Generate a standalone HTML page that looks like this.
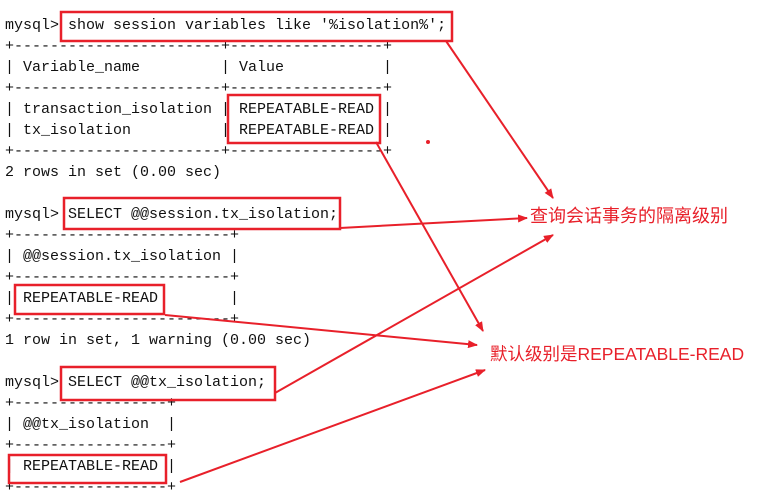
<!DOCTYPE html>
<html><head><meta charset="utf-8"><style>
html,body{margin:0;padding:0;background:#fff;width:776px;height:496px;overflow:hidden;position:relative}
pre{position:absolute;left:5px;top:15px;margin:0;font-family:"Liberation Mono",monospace;font-size:15px;line-height:21px;color:#111}
.lab{position:absolute;color:#e8202a;font-family:"Liberation Sans","Noto Sans CJK SC",sans-serif;font-size:18px;white-space:nowrap}
svg{position:absolute;left:0;top:0}
</style></head><body>
<pre>mysql> show session variables like '%isolation%';
+-----------------------+-----------------+
| Variable_name         | Value           |
+-----------------------+-----------------+
| transaction_isolation | REPEATABLE-READ |
| tx_isolation          | REPEATABLE-READ |
+-----------------------+-----------------+
2 rows in set (0.00 sec)

mysql> SELECT @@session.tx_isolation;
+------------------------+
| @@session.tx_isolation |
+------------------------+
| REPEATABLE-READ        |
+------------------------+
1 row in set, 1 warning (0.00 sec)

mysql> SELECT @@tx_isolation;
+-----------------+
| @@tx_isolation  |
+-----------------+
| REPEATABLE-READ |
+-----------------+</pre>
<svg width="776" height="496" viewBox="0 0 776 496">
<defs><marker id="a" markerWidth="10" markerHeight="8" refX="9" refY="4" orient="auto" markerUnits="userSpaceOnUse"><path d="M0,0 L10,4 L0,8 z" fill="#e8202a"/></marker></defs>
<g fill="none" stroke="#e8202a" stroke-width="2.5">
<rect x="61" y="12" width="391" height="29"/>
<rect x="228" y="95" width="152" height="48"/>
<rect x="64" y="198" width="276" height="31"/>
<rect x="15" y="285" width="149" height="29"/>
<rect x="61" y="367" width="214" height="33"/>
<rect x="9" y="455" width="157" height="28"/>
</g>
<g stroke="#e8202a" stroke-width="2" marker-end="url(#a)">
<line x1="446" y1="41" x2="553" y2="198"/>
<line x1="340" y1="228" x2="527" y2="218"/>
<line x1="275" y1="393" x2="553" y2="235"/>
<line x1="376" y1="142" x2="483" y2="331"/>
<line x1="165" y1="315" x2="477" y2="345"/>
<line x1="180" y1="482" x2="485" y2="370"/>
</g>
<circle cx="428" cy="142" r="2" fill="#e8202a"/>
</svg>
<div class="lab" style="left:530px;top:202px">查询会话事务的隔离级别</div>
<div class="lab" style="left:490px;top:341px;font-size:17.5px">默认级别是REPEATABLE-READ</div>
</body></html>
